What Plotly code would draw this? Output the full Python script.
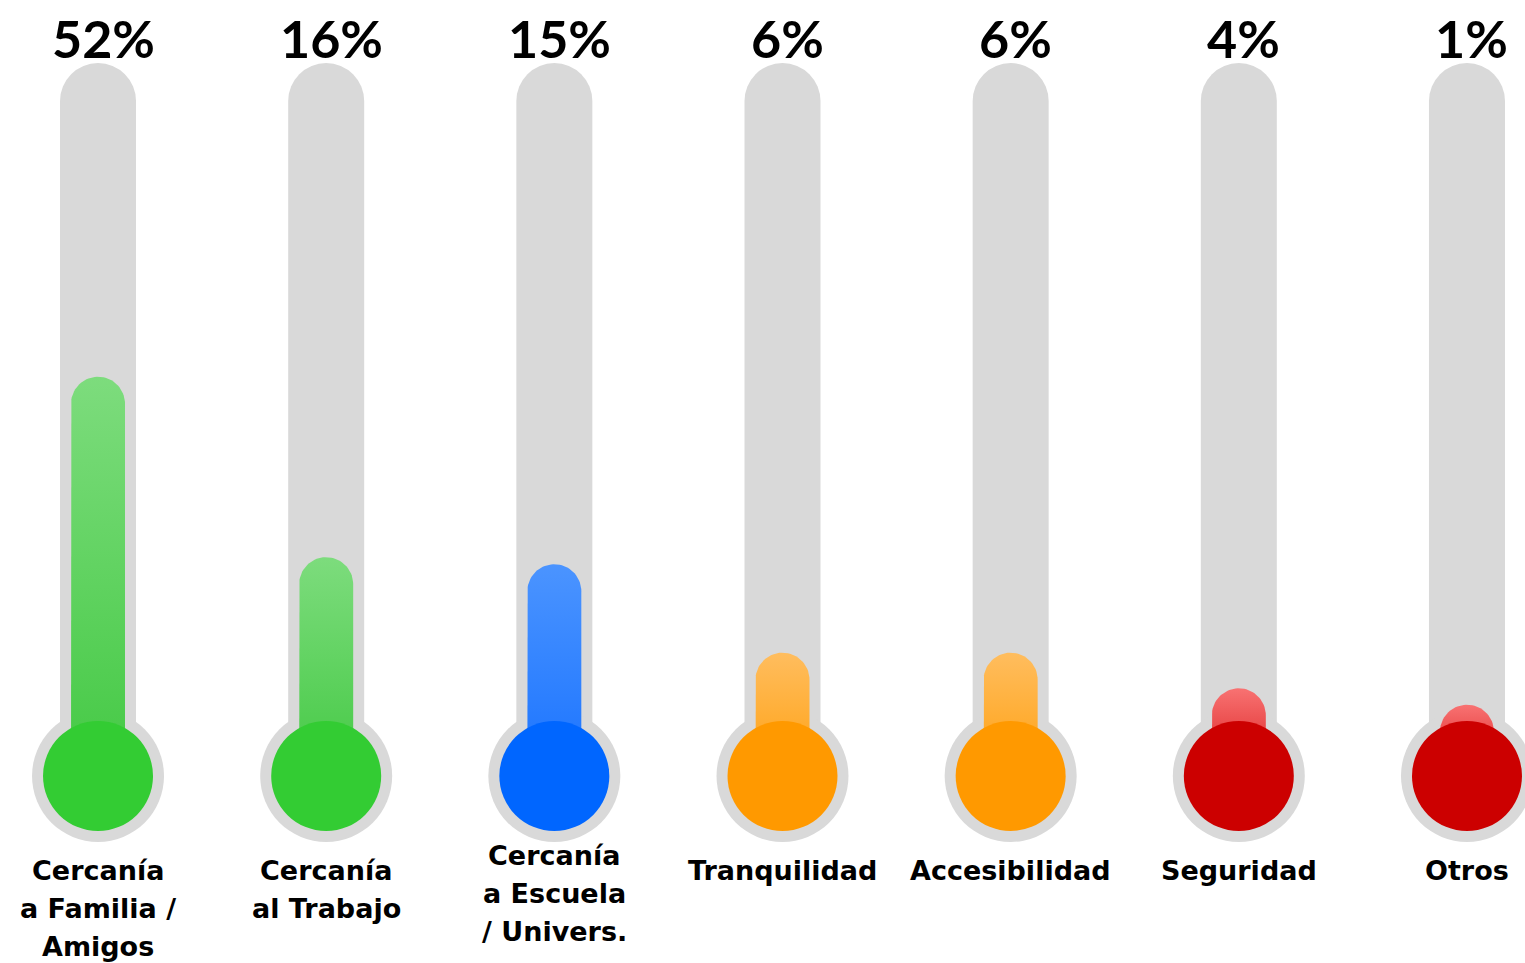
import numpy as np
import plotly.graph_objects as go

# ---- data ----
categories = ["Cercanía<br>a Familia /<br>Amigos", "Cercanía<br>al Trabajo",
              "Cercanía<br>a Escuela<br>/ Univers.", "Tranquilidad", "Accesibilidad",
              "Seguridad", "Otros"]
percent_labels = ["52%", "16%", "15%", "6%", "6%", "4%", "1%"]
# fill level of each thermometer (0 = bulb centre, 100 = top of tube)
fill_levels = [56.0, 30.7, 29.7, 17.3, 17.3, 12.3, 10.0]
bulb_colors = ["#33cc33", "#33cc33", "#0066ff", "#ff9900", "#ff9900", "#cc0000", "#cc0000"]
fill_top_colors = ["#7ddc7d", "#7ddc7d", "#4b94ff", "#ffbd5e", "#ffbd5e", "#f87272", "#f87272"]
fill_bottom_colors = ["#44c944", "#44c944", "#1a73ff", "#ffa010", "#ffa010", "#d81a1a", "#d81a1a"]
tube_top = 100

GRAY = "#d9d9d9"
W, H = 1525, 963
x_range = [-0.4296, 6.2543]
y_range = [-26.23, 108.84]
px_x = W / (x_range[1] - x_range[0])
px_y = H / (y_range[1] - y_range[0])

n = len(categories)
xs = list(range(n))

fig = go.Figure()

# tubes
fig.add_trace(go.Bar(x=xs, y=[tube_top] * n, base=0, width=76 / px_x,
                     marker=dict(color=GRAY, cornerradius="50%", line=dict(width=0)),
                     hoverinfo="skip"))

# outer bulb ring
fig.add_trace(go.Scatter(x=xs, y=[0] * n, mode="markers",
                         marker=dict(size=132, color=GRAY, line=dict(width=0)),
                         hoverinfo="skip"))

# fills with rounded tops and vertical gradient
r_px = 27
rx = r_px / px_x
ry = r_px / px_y
t = np.linspace(np.pi, 0, 40)
for i, lvl in enumerate(fill_levels):
    cy = lvl - ry
    px = [i - rx, i - rx] + list(i + rx * np.cos(t)) + [i + rx, i - rx]
    py = [0, cy] + list(cy + ry * np.sin(t)) + [0, 0]
    fig.add_trace(go.Scatter(
        x=px, y=py, mode="lines", fill="toself", line=dict(width=0),
        fillgradient=dict(type="vertical",
                          colorscale=[[0, fill_bottom_colors[i]], [1, fill_top_colors[i]]],
                          start=0, stop=lvl),
        hoverinfo="skip"))

# inner bulbs
fig.add_trace(go.Scatter(x=xs, y=[0] * n, mode="markers",
                         marker=dict(size=110, color=bulb_colors, line=dict(width=0)),
                         hoverinfo="skip"))

# percentage labels
for i, lab in enumerate(percent_labels):
    fig.add_annotation(x=i, y=103.5, text=lab, showarrow=False, xshift=5,
                       yanchor="middle", xanchor="center",
                       font=dict(family="Lato", size=52, color="#000000", weight="bold"))

# category labels, one annotation per line for exact line pitch
first_line_px = [95, 95, 80, 95, 95, 95, 95]   # offset below bulb centre, pixels
line_pitch_px = 38
label_font = dict(family="DejaVu Sans", size=27, color="#000000", weight="bold")
for i, cat in enumerate(categories):
    for k, line in enumerate(cat.split("<br>")):
        off = first_line_px[i] + k * line_pitch_px
        fig.add_annotation(x=i, y=-off / px_y, text=line, showarrow=False,
                           yanchor="middle", xanchor="center", font=label_font)

fig.update_layout(
    width=W, height=H, margin=dict(l=0, r=0, t=0, b=0),
    paper_bgcolor="white", plot_bgcolor="white", showlegend=False,
    barmode="overlay",
    xaxis=dict(range=x_range, visible=False, fixedrange=True),
    yaxis=dict(range=y_range, visible=False, fixedrange=True),
)

fig.write_html("out.html")
